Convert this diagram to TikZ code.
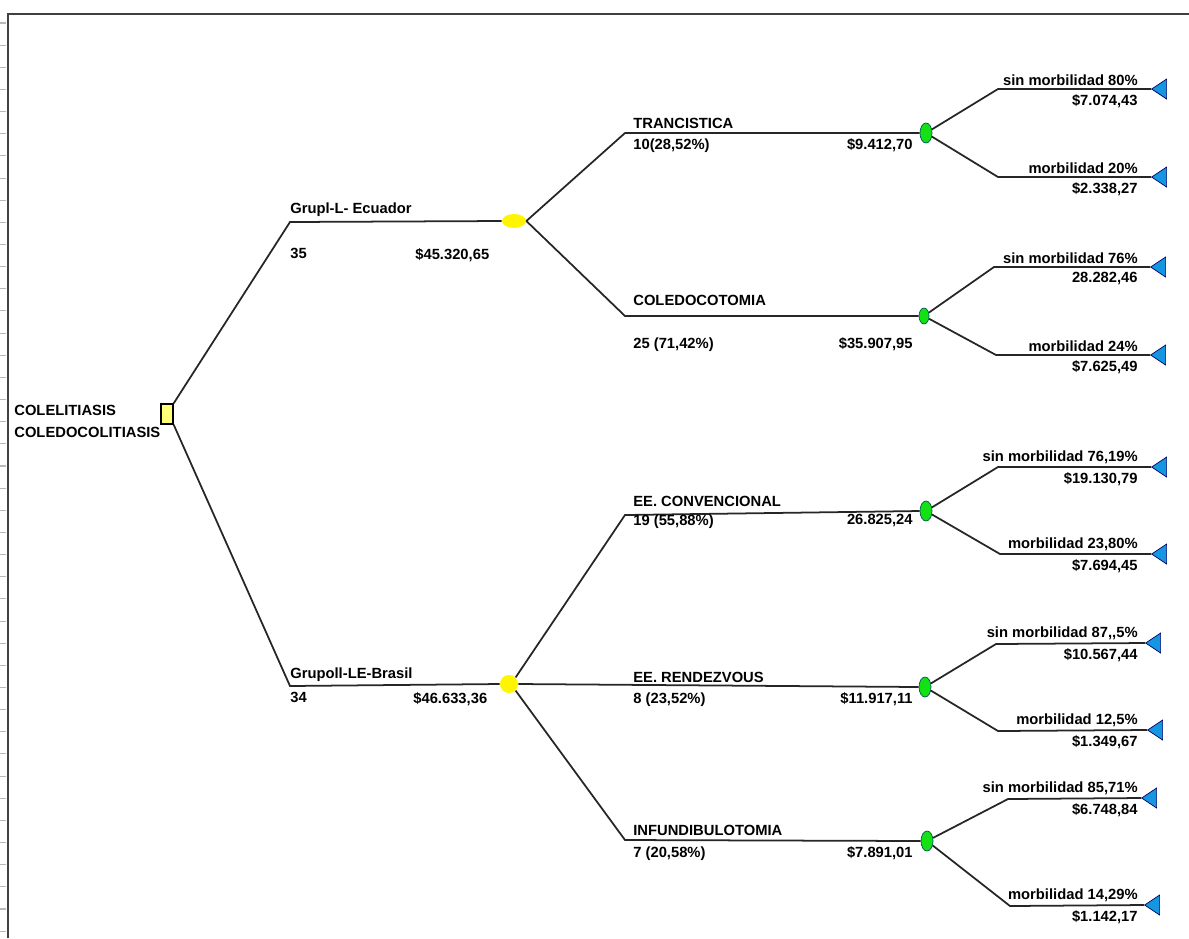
\documentclass[tikz,border=0pt]{standalone}
\usepackage{fontspec}
\newfontfamily\treefont{Liberation Sans}
\usepackage{xcolor}
\usetikzlibrary{shapes.geometric, positioning}
\definecolor{decyellow}{RGB}{255,255,120}
\definecolor{chanceyellow}{RGB}{255,245,0}
\definecolor{evgreen}{RGB}{20,225,20}
\definecolor{termblue}{RGB}{20,150,225}
\tikzset{
    decision/.style={
        rectangle,
        draw=black,
        thick,
        minimum width=0.24cm,
        minimum height=0.4cm,
        inner sep=0pt,
        fill=decyellow
    },
    chance/.style={
        ellipse,
        draw=none,
        minimum width=0.48cm,
        minimum height=0.28cm,
        inner sep=0pt,
        fill=chanceyellow
    },
    event/.style={
        ellipse,
        draw=teal!70!black,
        thin,
        minimum width=0.24cm,
        minimum height=0.4cm,
        inner sep=0pt,
        fill=evgreen
    },
    terminal/.style={
        isosceles triangle,
        isosceles triangle apex angle=70,
        isosceles triangle stretches,
        shape border rotate=180,
        draw=blue!40!black,
        thin,
        minimum width=0.4cm,
        minimum height=0.3cm,
        inner sep=0pt,
        fill=termblue
    },
    branch/.style={
        draw=black!85,
        line width=1pt
    },
    lbl/.style={
        font=\treefont\bfseries\fontsize{8.4}{12.5}\selectfont,
        inner sep=0pt
    }
}

\begin{document}
\begin{tikzpicture}[x=0.02cm, y=-0.02cm]

\useasboundingbox (0,0) rectangle (1189,938);

% Window frame and ruler ticks
\draw[black!75, line width=1.2pt] (8,938) -- (8,14) -- (1189,14);
\foreach \k in {0,...,41}
    \draw[gray!55, line width=0.6pt] (0,23+22.15*\k) -- (6,23+22.15*\k);

% Root decision
\node[decision] (root) at (167,414) {};
\node[lbl, anchor=west, align=left] (rootlbl) at (14,421) {COLELITIASIS\\COLEDOCOLITIASIS};

% Group I (Ecuador)
\coordinate (g1) at (290,222);
\node[chance] (c1) at (514,221) {};
\draw[branch] (root.north east) -- (g1) -- (c1.west);
\node[lbl, anchor=south west] (g1name) at (290,217) {Grupl-L- Ecuador};
\node[lbl, anchor=north west] (g1n) at (290,248) {35};
\node[lbl, anchor=north west] (g1cost) at (415,248) {\$45.320,65};

% Group II (Brasil)
\coordinate (g2) at (290,686);
\node[chance, circle, minimum size=0.36cm] (c2) at (509,684) {};
\draw[branch] (root.south east) -- (g2) -- (c2.west);
\node[lbl, anchor=south west] (g2name) at (290,682) {Grupoll-LE-Brasil};
\node[lbl, anchor=north west] (g2n) at (290,692) {34};
\node[lbl, anchor=north west] (g2cost) at (413,692) {\$46.633,36};

% Procedures, group I
\coordinate (p1) at (625,133);
\node[event] (e1) at (926,133) {};
\draw[branch] (c1.east) -- (p1) -- (e1.west);
\node[lbl, anchor=south west] (p1name) at (633,129) {TRANCISTICA};
\node[lbl, anchor=north west] (p1n) at (633,138) {10(28,52\%)};
\node[lbl, anchor=north east] (p1cost) at (913,138) {\$9.412,70};

\coordinate (p2) at (625,316);
\node[event, minimum width=0.2cm, minimum height=0.32cm] (e2) at (924,316) {};
\draw[branch] (c1.east) -- (p2) -- (e2.west);
\node[lbl, anchor=south west] (p2name) at (633,306) {COLEDOCOTOMIA};
\node[lbl, anchor=north west] (p2n) at (633,337) {25 (71,42\%)};
\node[lbl, anchor=north east] (p2cost) at (913,337) {\$35.907,95};

% Procedures, group II
\coordinate (p3) at (625,515);
\node[event] (e3) at (926,511) {};
\draw[branch] (c2.north east) -- (p3) -- (e3.west);
\node[lbl, anchor=south west] (p3name) at (633,507) {EE. CONVENCIONAL};
\node[lbl, anchor=north west] (p3n) at (633,514) {19 (55,88\%)};
\node[lbl, anchor=north east] (p3cost) at (913,514) {26.825,24};

\node[event] (e4) at (925,687) {};
\draw[branch] (c2.east) -- (e4.west);
\node[lbl, anchor=south west] (p4name) at (633,683) {EE. RENDEZVOUS};
\node[lbl, anchor=north west] (p4n) at (633,692) {8 (23,52\%)};
\node[lbl, anchor=north east] (p4cost) at (913,692) {\$11.917,11};

\coordinate (p5) at (625,840);
\node[event] (e5) at (927,841) {};
\draw[branch] (c2.south east) -- (p5) -- (e5.west);
\node[lbl, anchor=south west] (p5name) at (633,836) {INFUNDIBULOTOMIA};
\node[lbl, anchor=north west] (p5n) at (633,846) {7 (20,58\%)};
\node[lbl, anchor=north east] (p5cost) at (913,846) {\$7.891,01};

% Outcomes
\foreach \ev/\yy/\xa/\ya/\tx/\ta/\tb [count=\i] in {
    e1/89/998/89/1151/{sin morbilidad 80\%}/{\$7.074,43},
    e1/177/998/177/1151/{morbilidad 20\%}/{\$2.338,27},
    e2/267/994/267/1150/{sin morbilidad 76\%}/{28.282,46},
    e2/355/996/355/1150/{morbilidad 24\%}/{\$7.625,49},
    e3/467/998/467/1151/{sin morbilidad 76,19\%}/{\$19.130,79},
    e3/554/1000/554/1151/{morbilidad 23,80\%}/{\$7.694,45},
    e4/643/996/644/1145/{sin morbilidad 87,,5\%}/{\$10.567,44},
    e4/730/998/731/1147/{morbilidad 12,5\%}/{\$1.349,67},
    e5/798/1008/799/1141/{sin morbilidad 85,71\%}/{\$6.748,84},
    e5/905/1010/906/1144/{morbilidad 14,29\%}/{\$1.142,17}}
{
    \coordinate (o\i) at (\xa,\ya);
    \node[terminal, anchor=apex] (t\i) at (\tx,\yy) {};
    \draw[branch] (\ev) -- (o\i) -- (t\i.apex);
    \node[lbl, anchor=south east] (oname\i) at (1138,\yy-3) {\ta};
    \node[lbl, anchor=north east] (oval\i) at (1138,\yy+5) {\tb};
}

\end{tikzpicture}
\end{document}
